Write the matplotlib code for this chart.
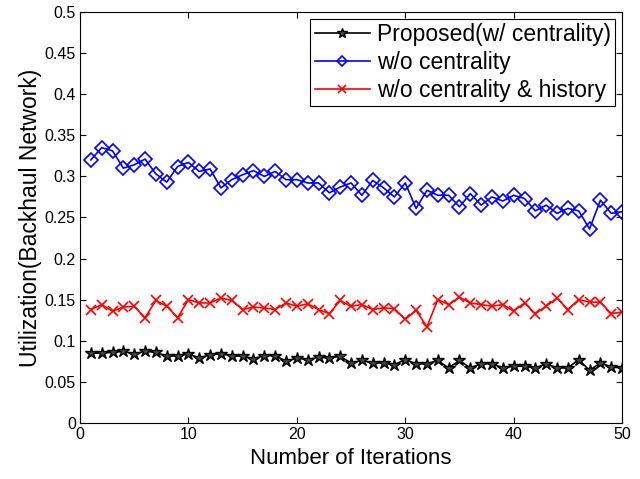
import matplotlib
matplotlib.use("Agg")
import matplotlib.pyplot as plt

plt.rcParams["font.family"] = ["Liberation Sans", "DejaVu Sans"]

iterations = list(range(1, 51))

proposed = [0.085, 0.085, 0.086, 0.087, 0.084, 0.087, 0.086, 0.081, 0.082, 0.084,
            0.079, 0.083, 0.084, 0.082, 0.081, 0.078, 0.082, 0.082, 0.075, 0.079,
            0.077, 0.080, 0.079, 0.081, 0.073, 0.076, 0.073, 0.073, 0.071, 0.077,
            0.072, 0.072, 0.076, 0.067, 0.076, 0.067, 0.072, 0.072, 0.067, 0.069,
            0.069, 0.067, 0.072, 0.067, 0.067, 0.077, 0.064, 0.073, 0.068, 0.067]

wo_centrality = [0.320, 0.335, 0.331, 0.310, 0.314, 0.321, 0.303, 0.293, 0.312, 0.317,
                 0.306, 0.309, 0.286, 0.296, 0.302, 0.307, 0.300, 0.306, 0.296, 0.296,
                 0.292, 0.292, 0.280, 0.287, 0.292, 0.277, 0.295, 0.286, 0.275, 0.292,
                 0.261, 0.283, 0.277, 0.277, 0.263, 0.279, 0.265, 0.275, 0.270, 0.277,
                 0.273, 0.258, 0.265, 0.255, 0.261, 0.258, 0.236, 0.271, 0.255, 0.257]

wo_cent_hist = [0.138, 0.144, 0.136, 0.141, 0.142, 0.128, 0.149, 0.142, 0.128, 0.150,
                0.146, 0.146, 0.152, 0.149, 0.138, 0.141, 0.140, 0.138, 0.146, 0.142,
                0.145, 0.138, 0.133, 0.149, 0.142, 0.144, 0.138, 0.140, 0.139, 0.126,
                0.137, 0.117, 0.150, 0.144, 0.153, 0.146, 0.144, 0.142, 0.144, 0.136,
                0.146, 0.133, 0.142, 0.152, 0.138, 0.150, 0.147, 0.147, 0.133, 0.135]

fig = plt.figure(figsize=(6.4, 4.79), dpi=100)
ax = fig.add_axes([0.125, 0.117, 0.847, 0.858])

ax.plot(iterations, proposed, color="black", marker="*", markersize=9,
        markerfacecolor="#444444", markeredgecolor="black", linewidth=1.2,
        label="Proposed(w/ centrality)")
ax.plot(iterations, wo_centrality, color="blue", marker="D", markersize=7,
        markerfacecolor="none", markeredgewidth=1.2, linewidth=1.2,
        label="w/o centrality")
ax.plot(iterations, wo_cent_hist, color="red", marker="x", markersize=7,
        markeredgewidth=1.2, linewidth=1.2,
        label="w/o centrality & history")

ax.set_xlim(0, 50)
ax.set_ylim(0, 0.5)
ax.set_xticks(range(0, 51, 10))
ax.set_yticks([i * 0.05 for i in range(11)])
ax.set_yticklabels(["0", "0.05", "0.1", "0.15", "0.2", "0.25", "0.3",
                    "0.35", "0.4", "0.45", "0.5"])
ax.tick_params(direction="in", labelsize=11.5, top=True, right=True, length=4,
               pad=3)
ax.set_xlabel("Number of Iterations", fontsize=16, labelpad=4)
ax.set_ylabel("Utilization(Backhaul Network)", fontsize=16.5, labelpad=2)

leg = ax.legend(loc="upper right", fontsize=16.5, fancybox=False, framealpha=1,
                edgecolor="black", borderaxespad=0.3, handlelength=2.4,
                borderpad=0.2, labelspacing=0.2, handletextpad=0.3,
                markerscale=0.8)
leg.get_frame().set_linewidth(0.8)

fig.savefig("out.png", dpi=100, facecolor="white")
